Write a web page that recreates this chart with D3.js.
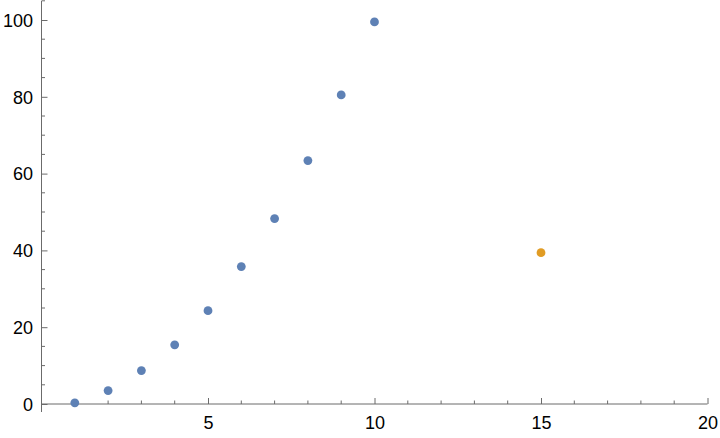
<!DOCTYPE html>
<html><head><meta charset="utf-8">
<script src="https://cdn.jsdelivr.net/npm/d3@7"></script>
<style>
html,body{margin:0;padding:0;background:#fff;}
svg{display:block;}
text{font-family:"Liberation Sans",Arial,Helvetica,sans-serif;}
</style></head>
<body>
<svg id="chart" width="720" height="438"></svg>
<script>
// Data
const seriesX = [1, 2, 3, 4, 5, 6, 7, 8, 9, 10];
const seriesY = [0.3, 3.5, 8.7, 15.4, 24.3, 35.8, 48.3, 63.4, 80.5, 99.5];
const extraX = [15];
const extraY = [39.4];
const xTicks = [5, 10, 15, 20];
const yTicks = [0, 20, 40, 60, 80, 100];

const svg = d3.select("#chart");
const axisColor = "#6b6b6b";
const x = d3.scaleLinear().domain([0, 20]).range([41.5, 707.5]);
const y = d3.scaleLinear().domain([0, 100]).range([404, 20]);
const yMin = y.invert(412), yMax = y.invert(1);

// X axis
const xAxis = d3.axisBottom(x).tickValues(xTicks).tickSize(6).tickPadding(5).tickFormat(d3.format("d"));
const gx = svg.append("g").attr("transform", `translate(0,${y(0)})`).call(xAxis);
gx.select(".domain").remove();
gx.selectAll(".tick line").attr("stroke", axisColor).attr("y1", 0).attr("y2", -6);
gx.selectAll(".tick text").attr("fill", "#000").attr("font-size", 18).attr("y", 25).attr("dy", null)
  .attr("font-family", "Liberation Sans, Arial, sans-serif");
svg.append("line").attr("x1", x(0)).attr("x2", x(20)).attr("y1", y(0)).attr("y2", y(0))
  .attr("stroke", axisColor).attr("stroke-width", 1);
const xMinor = d3.range(1, 21).filter(v => v % 5 !== 0);
svg.append("g").selectAll("line").data(xMinor).join("line")
  .attr("x1", d => x(d)).attr("x2", d => x(d)).attr("y1", y(0)).attr("y2", y(0) - 3.5)
  .attr("stroke", axisColor);

// Y axis
const yAxis = d3.axisLeft(y).tickValues(yTicks).tickSize(6).tickPadding(8).tickFormat(d3.format("d"));
const gy = svg.append("g").attr("transform", `translate(${x(0)},0)`).call(yAxis);
gy.select(".domain").remove();
gy.selectAll(".tick line").attr("stroke", axisColor).attr("x1", 0).attr("x2", 6);
gy.selectAll(".tick text").attr("fill", "#000").attr("font-size", 18).attr("x", -8.5).attr("dy", "0.35em")
  .attr("font-family", "Liberation Sans, Arial, sans-serif");
svg.append("line").attr("x1", x(0)).attr("x2", x(0)).attr("y1", y(yMin)).attr("y2", y(yMax))
  .attr("stroke", axisColor).attr("stroke-width", 1);
const yMinor = d3.range(5, 106, 5).filter(v => v % 20 !== 0);
svg.append("g").selectAll("line").data(yMinor).join("line")
  .attr("x1", x(0)).attr("x2", x(0) + 3.5).attr("y1", d => y(d)).attr("y2", d => y(d))
  .attr("stroke", axisColor);

// Points
svg.append("g").selectAll("circle").data(seriesX.map((d, i) => [d, seriesY[i]])).join("circle")
  .attr("cx", d => x(d[0])).attr("cy", d => y(d[1])).attr("r", 4.4).attr("fill", "#5E81B5");
svg.append("g").selectAll("circle").data(extraX.map((d, i) => [d, extraY[i]])).join("circle")
  .attr("cx", d => x(d[0])).attr("cy", d => y(d[1])).attr("r", 4.4).attr("fill", "#E19C24");
</script>
</body></html>
